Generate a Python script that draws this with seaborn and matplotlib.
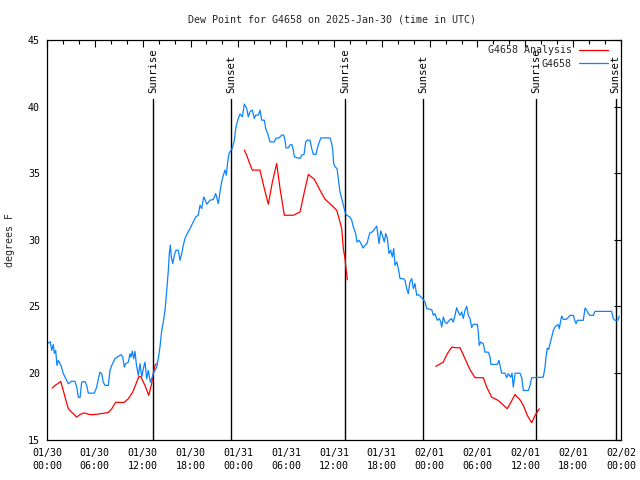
import numpy as np
import pandas as pd
import matplotlib
matplotlib.use("Agg")
import matplotlib.pyplot as plt
import seaborn as sns

# ---------------- data ----------------
title = "Dew Point for G4658 on 2025-Jan-30 (time in UTC)"
start = pd.Timestamp("2025-01-30 00:00")

# station observations: hours since start, dew point (F)
obs_hours = [0.16, 0.41, 0.59, 0.79, 0.92, 1.09, 1.25, 1.42, 1.63, 1.76, 2.04, 2.35, 2.67, 3.10, 3.51, 3.73, 3.93, 4.14,
             4.35, 4.77, 4.98, 5.18, 5.93, 6.23, 6.44, 6.65, 6.86, 7.06, 7.28, 7.69, 7.90, 8.12, 8.53, 8.94, 9.28, 9.50,
             9.70, 9.87, 10.20, 10.41, 10.54, 10.70, 10.88, 11.04, 11.20, 11.45, 11.67, 11.88, 12.13, 12.29, 12.51,
             12.71, 12.96, 13.13, 13.33, 13.55, 13.76, 13.96, 14.17, 14.39, 14.59, 14.80, 15.02, 15.22, 15.34, 15.47,
             15.59, 15.77, 15.97, 16.18, 16.47, 16.68, 16.90, 17.10, 17.31, 17.60, 17.94, 18.35, 18.65, 18.98, 19.19,
             19.41, 19.66, 19.86, 20.03, 20.45, 20.86, 21.16, 21.32, 21.49, 21.70, 21.91, 22.12, 22.33, 22.49, 22.67,
             22.83, 23.08, 23.24, 23.50, 23.67, 23.92, 24.21, 24.50, 24.75, 25.05, 25.25, 25.46, 25.75, 26.00, 26.18,
             26.51, 26.72, 26.93, 27.26, 27.43, 27.68, 27.97, 28.51, 28.69, 29.10, 29.44, 29.69, 29.85, 29.98, 30.27,
             30.48, 30.70, 30.90, 31.02, 31.45, 31.74, 31.95, 32.24, 32.45, 32.65, 32.99, 33.20, 33.40, 33.74, 33.96,
             34.16, 34.37, 35.50, 35.71, 35.84, 35.96, 36.13, 36.38, 36.54, 36.75, 36.97, 37.17, 37.38, 37.59, 38.01,
             38.22, 38.42, 38.72, 38.89, 39.14, 39.39, 39.64, 39.89, 40.14, 40.30, 40.48, 40.81, 41.36, 41.48, 41.65,
             41.86, 42.06, 42.31, 42.49, 42.69, 42.90, 43.11, 43.31, 43.49, 43.65, 43.87, 44.07, 44.28, 44.69, 44.91,
             45.12, 45.32, 45.53, 45.75, 45.95, 46.16, 46.37, 46.58, 46.91, 47.08, 47.42, 47.63, 48.26, 48.46, 48.67,
             48.96, 49.21, 49.39, 49.51, 49.71, 49.92, 50.14, 50.46, 50.76, 50.96, 51.18, 51.39, 51.59, 51.81, 52.02,
             52.22, 52.43, 52.65, 52.85, 53.06, 53.27, 53.47, 53.97, 54.10, 54.22, 54.39, 54.72, 54.94, 55.35, 55.57,
             55.69, 56.48, 56.70, 56.82, 57.04, 57.45, 57.66, 57.86, 58.16, 58.33, 58.49, 58.71, 59.33, 59.55, 59.75,
             60.38, 60.59, 60.80, 62.25, 62.47, 62.59, 62.76, 62.93, 63.10, 63.31, 63.51, 63.72, 63.94, 64.14, 64.26,
             64.44, 64.56, 64.77, 65.10, 65.32, 65.60, 66.02, 66.19, 66.36, 66.52, 67.27, 67.49, 67.70, 67.90, 68.11,
             68.53, 68.74, 70.83, 71.03, 71.24, 71.58, 71.79]
obs_dewpt = [22.24, 22.35, 21.69, 22.14, 21.47, 21.69, 20.56, 20.94, 20.71, 20.56, 19.96, 19.59, 19.19, 19.38, 19.36,
             18.93, 18.18, 18.14, 19.31, 19.36, 19.06, 18.48, 18.48, 18.93, 19.56, 20.06, 19.94, 19.31, 19.06, 19.06,
             20.19, 20.56, 21.07, 21.24, 21.37, 21.19, 20.44, 20.69, 20.81, 21.44, 21.19, 21.64, 21.07, 21.62, 20.69,
             19.81, 20.69, 19.68, 20.44, 20.81, 19.56, 20.19, 19.31, 19.56, 19.94, 20.19, 20.44, 21.07, 21.94, 23.20,
             23.82, 24.70, 26.20, 27.71, 28.96, 29.59, 28.71, 28.21, 28.83, 29.21, 29.21, 28.46, 28.96, 29.59, 30.09,
             30.47, 30.84, 31.34, 31.71, 31.84, 32.59, 32.35, 33.22, 32.97, 32.67, 32.97, 33.02, 33.47, 33.10, 32.72,
             33.59, 34.35, 34.85, 35.23, 34.85, 35.85, 36.48, 36.73, 36.86, 37.48, 38.36, 38.98, 39.44, 39.23, 40.19,
             39.86, 39.23, 39.61, 39.74, 39.11, 39.36, 39.36, 39.74, 38.98, 38.98, 38.36, 37.98, 37.35, 37.35, 37.61,
             37.65, 37.86, 37.86, 37.48, 36.90, 36.90, 37.11, 37.16, 36.73, 36.23, 36.15, 36.11, 36.35, 36.41, 37.35,
             37.48, 37.48, 36.86, 36.41, 36.41, 36.98, 37.35, 37.65, 37.65, 37.23, 36.73, 35.73, 35.47, 35.35, 34.60,
             33.59, 33.10, 32.59, 32.09, 31.84, 31.71, 31.47, 30.96, 30.47, 29.83, 29.96, 29.71, 29.38, 29.59, 29.71,
             30.09, 30.51, 30.59, 31.02, 30.47, 29.71, 30.66, 30.34, 29.83, 30.47, 30.09, 28.96, 29.21, 28.71, 29.34,
             28.08, 28.33, 27.83, 27.08, 27.08, 26.95, 26.33, 25.95, 26.83, 27.08, 26.33, 26.71, 25.83, 25.88, 25.70,
             25.58, 25.32, 24.83, 24.75, 24.32, 24.45, 23.95, 24.08, 23.82, 23.44, 24.20, 23.82, 23.70, 23.95, 24.08,
             23.82, 24.32, 24.90, 24.57, 24.32, 24.57, 24.08, 24.70, 25.00, 24.32, 24.08, 23.40, 23.65, 23.65, 23.07,
             22.07, 22.32, 22.20, 21.56, 21.56, 21.19, 20.64, 20.64, 20.94, 20.56, 19.98, 19.98, 19.64, 19.94, 19.68,
             19.98, 18.93, 19.98, 19.98, 19.64, 18.68, 18.68, 19.06, 19.64, 19.68, 20.44, 21.19, 21.86, 21.77, 22.20,
             22.69, 23.20, 23.44, 23.57, 23.62, 23.32, 23.95, 24.27, 24.02, 24.02, 24.12, 24.32, 24.32, 23.95, 23.70,
             23.95, 23.95, 24.87, 24.70, 24.45, 24.32, 24.32, 24.62, 24.62, 24.08, 23.95, 23.95, 24.25]

# analysis: three separate segments
ana_hours = [0.66, 1.00, 1.34, 1.72, 2.04, 2.67, 3.10, 3.73, 4.14, 4.68, 4.98, 5.52, 6.02, 6.65, 7.19, 7.69, 8.12, 8.62,
             9.28, 9.66, 10.20, 10.75, 11.25, 11.54, 11.79, 12.29, 12.76, 13.13, 13.33, 13.55, 13.71,
             24.75, 25.05, 25.34, 25.75, 26.71, 27.26, 27.76, 28.26, 28.81, 29.23, 29.77, 30.90, 31.74, 32.28, 32.78,
             33.53, 34.24, 34.87, 35.71, 36.34, 36.75, 36.97, 37.17, 37.38, 37.51, 37.67,
             48.76, 49.21, 49.71, 50.21, 50.77, 51.31, 51.81, 52.43, 53.06, 53.69, 54.73, 55.16, 55.78, 56.61, 57.74,
             58.71, 59.33, 59.75, 60.25, 60.80, 61.21, 61.75]
ana_dewpt = [18.86, 19.06, 19.19, 19.36, 18.68, 17.31, 17.05, 16.68, 16.88, 17.00, 16.93, 16.86, 16.88, 16.93, 16.98,
             17.03, 17.31, 17.80, 17.78, 17.78, 18.06, 18.56, 19.31, 19.74, 19.68, 19.06, 18.31, 19.19, 19.94, 20.56,
             20.69,
             36.73, 36.35, 35.85, 35.23, 35.23, 33.85, 32.67, 34.30, 35.73, 33.85, 31.84, 31.84, 32.09, 33.59, 34.90,
             34.55, 33.72, 33.05, 32.59, 32.22, 31.34, 30.84, 29.34, 28.59, 27.83, 27.00,
             20.49, 20.64, 20.81, 21.44, 21.94, 21.89, 21.89, 21.07, 20.24, 19.64, 19.64, 18.93, 18.18, 17.93, 17.31,
             18.38, 17.98, 17.56, 16.80, 16.26, 16.80, 17.31]
ana_segment = [1] * 31 + [2] * 26 + [3] * 22

# sunrise / sunset (hours since start)
sun_hours = [13.33, 23.12, 37.42, 47.20, 61.38, 71.34]
sun_labels = ["Sunrise", "Sunset", "Sunrise", "Sunset", "Sunrise", "Sunset"]

series_names = ["G4658 Analysis", "G4658"]
series_colors = ["#ff0000", "#0a84ff"]

# ---------------- frame ----------------
df_obs = pd.DataFrame({"hours": obs_hours, "dewpt": obs_dewpt, "series": "G4658", "seg": 0})
df_ana = pd.DataFrame({"hours": ana_hours, "dewpt": ana_dewpt, "series": "G4658 Analysis", "seg": ana_segment})
df = pd.concat([df_ana, df_obs], ignore_index=True)

# ---------------- style ----------------
sns.set_style("white")
plt.rcParams["font.family"] = ["DejaVu Sans Mono", "DejaVu Sans"]
fs = 7.2

fig = plt.figure(figsize=(6.4, 4.8), dpi=100)
ax = fig.add_axes([47 / 640, 1 - 439.5 / 480, (621 - 47) / 640, (439.5 - 40) / 480])

sns.lineplot(data=df, x="hours", y="dewpt", hue="series", hue_order=series_names,
             palette=series_colors, units="seg", estimator=None, sort=False,
             linewidth=0.9, ax=ax)

# sunrise / sunset lines
line_top = 40.55
for h, lab in zip(sun_hours, sun_labels):
    ax.plot([h, h], [15, line_top], color="black", linewidth=1.0, zorder=1)
    ax.text(h, line_top + 0.5, lab, rotation=90, ha="center", va="bottom",
            fontsize=7.6, color="black")

ax.set_xlim(0, 72)
ax.set_ylim(15, 45)

major = np.arange(0, 73, 6)
ax.set_xticks(major)
ax.set_xticklabels([(start + pd.Timedelta(hours=float(h))).strftime("%m/%d\n%H:%M") for h in major])
ax.set_xticks(np.arange(0, 73, 2), minor=True)
ax.set_yticks(np.arange(15, 46, 5))

ax.tick_params(axis="both", which="both", direction="in", top=True, right=True,
               labelsize=fs, colors="black", width=0.8)
ax.tick_params(axis="both", which="major", length=5)
ax.tick_params(axis="x", which="minor", length=3)
ax.tick_params(axis="x", which="major", pad=6)
ax.tick_params(axis="y", which="major", pad=5)
for lab in ax.get_xticklabels():
    lab.set_linespacing(1.45)

for s in ax.spines.values():
    s.set_color("black")
    s.set_linewidth(0.9)

ax.set_xlabel("")
ax.set_ylabel("degrees F", fontsize=fs)
ax.yaxis.set_label_coords((15 - 47) / 574, 0.5)
fig.text(332 / 640, 1 - 19 / 480, title, ha="center", va="center", fontsize=fs)

leg = ax.legend(loc="upper right", bbox_to_anchor=(1.0 - 9 / 574, 1.0 - 1 / 400), frameon=False,
                markerfirst=False, fontsize=fs, handlelength=2.9, handletextpad=0.7, labelspacing=0.35,
                borderaxespad=0.15, borderpad=0.3)
for lh in leg.get_lines():
    lh.set_linewidth(0.9)

fig.savefig("out.png", dpi=100)
